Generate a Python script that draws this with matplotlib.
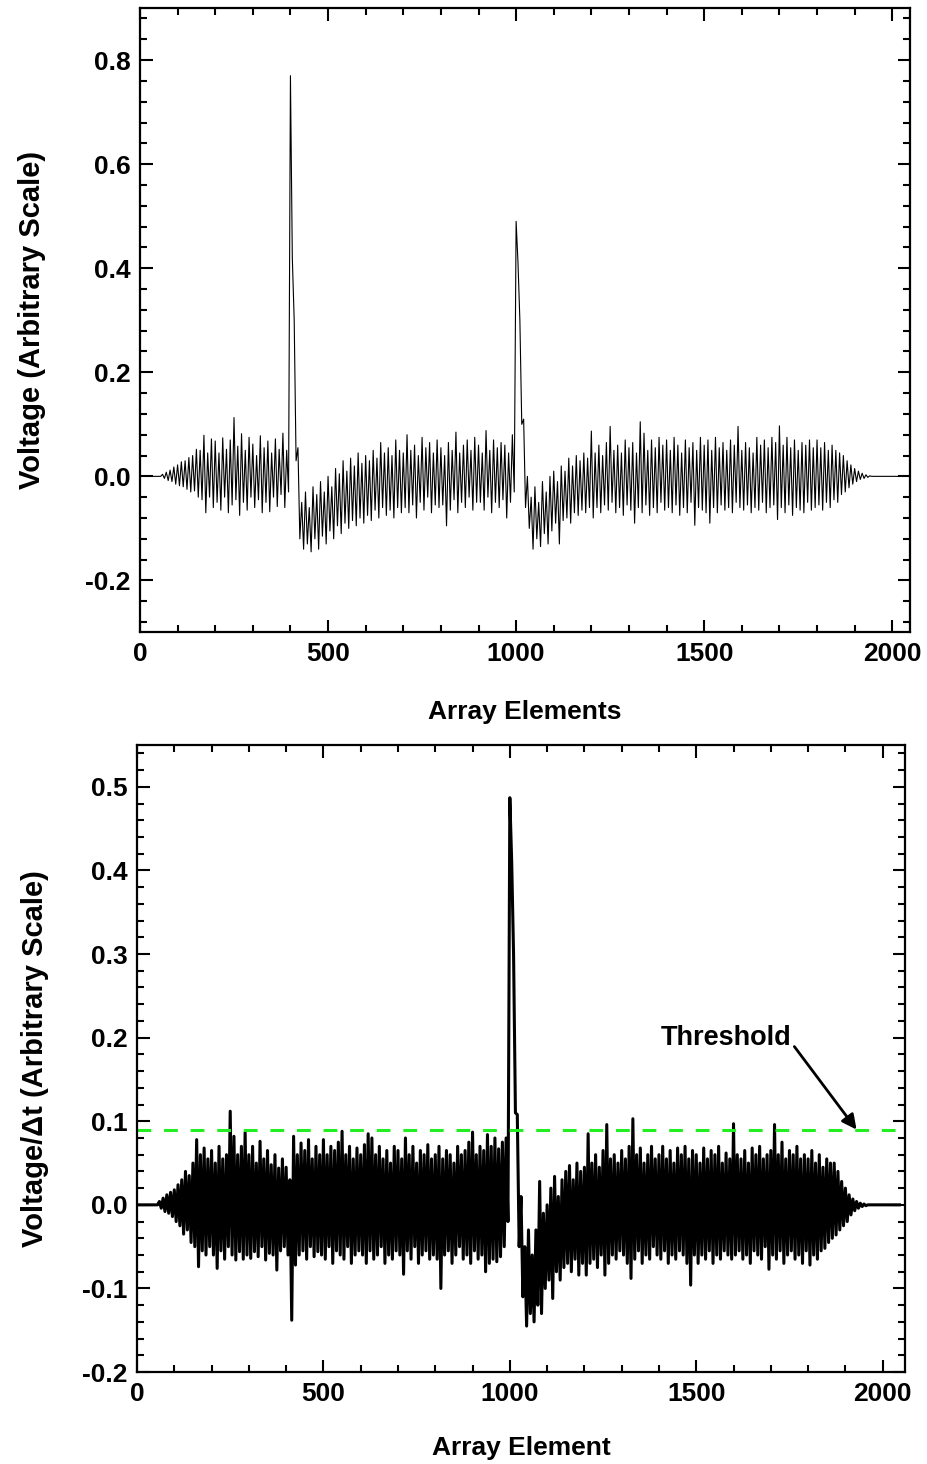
import numpy as np
import matplotlib.pyplot as plt

plt.rcParams['font.family'] = ['Liberation Sans', 'DejaVu Sans']
plt.rcParams['font.weight'] = 'bold'

# one peak/trough pair per 10 array elements
CYCLE = 10

# top panel: voltage
volt_upper = [
    0, 0, 0, 0, 0, 0, 0.004, 0.008, 0.012, 0.018,
    0.022, 0.028, 0.03, 0.036, 0.04, 0.052, 0.05, 0.079, 0.045, 0.072,
    0.068, 0.045, 0.074, 0.052, 0.07, 0.113, 0.058, 0.082, 0.05, 0.075,
    0.062, 0.04, 0.078, 0.055, 0.068, 0.045, 0.072, 0.052, 0.083, 0.05,
    0.77, 0.30, 0.055, -0.05, -0.03, -0.06, -0.02, -0.035, -0.01, -0.03,
    0.0, -0.02, 0.015, 0.005, 0.03, 0.01, 0.035, 0.02, 0.045, 0.025,
    0.04, 0.03, 0.05, 0.035, 0.065, 0.045, 0.055, 0.04, 0.07, 0.05,
    0.045, 0.08, 0.05, 0.06, 0.04, 0.075, 0.055, 0.065, 0.045, 0.07,
    0.055, 0.04, 0.065, 0.05, 0.085, 0.045, 0.06, 0.07, 0.05, 0.075,
    0.06, 0.045, 0.088, 0.05, 0.07, 0.055, 0.065, 0.06, 0.045, 0.08,
    0.49, 0.30, 0.11, 0.0, -0.04, -0.02, -0.05, -0.01, -0.03, 0.0,
    0.01, -0.01, 0.02, 0.01, 0.035, 0.02, 0.04, 0.03, 0.045, 0.035,
    0.087, 0.045, 0.06, 0.04, 0.065, 0.096, 0.05, 0.06, 0.045, 0.07,
    0.055, 0.065, 0.045, 0.105, 0.083, 0.05, 0.07, 0.055, 0.075, 0.06,
    0.07, 0.05, 0.075, 0.06, 0.045, 0.07, 0.055, 0.065, 0.05, 0.075,
    0.06, 0.07, 0.05, 0.075, 0.055, 0.065, 0.05, 0.07, 0.06, 0.096,
    0.05, 0.065, 0.055, 0.045, 0.075, 0.06, 0.07, 0.055, 0.075, 0.065,
    0.097, 0.06, 0.075, 0.055, 0.07, 0.05, 0.065, 0.06, 0.07, 0.055,
    0.07, 0.055, 0.065, 0.05, 0.06, 0.05, 0.045, 0.04, 0.03, 0.022,
    0.015, 0.01, 0.006, 0.003, 0.001, 0, 0, 0, 0, 0,
    0, 0, 0, 0, 0,
]
volt_lower = [
    0, 0, 0, 0, 0, 0, -0.004, -0.008, -0.01, -0.015,
    -0.018, -0.02, -0.025, -0.03, -0.028, -0.04, -0.045, -0.07, -0.04, -0.06,
    -0.05, -0.065, -0.04, -0.07, -0.055, -0.045, -0.075, -0.05, -0.065, -0.04,
    -0.06, -0.045, -0.07, -0.05, -0.068, -0.04, -0.058, -0.035, -0.06, -0.03,
    0.42, 0.03, -0.12, -0.14, -0.13, -0.145, -0.12, -0.14, -0.115, -0.13,
    -0.105, -0.12, -0.095, -0.11, -0.09, -0.1, -0.085, -0.095, -0.08, -0.09,
    -0.075, -0.085, -0.065, -0.08, -0.06, -0.075, -0.065, -0.08, -0.06, -0.07,
    -0.06, -0.07, -0.055, -0.08, -0.05, -0.065, -0.04, -0.07, -0.055, -0.06,
    -0.055, -0.095, -0.065, -0.045, -0.07, -0.05, -0.06, -0.04, -0.065, -0.05,
    -0.05, -0.065, -0.04, -0.07, -0.05, -0.06, -0.045, -0.08, -0.05, -0.03,
    0.41, 0.10, -0.06, -0.1, -0.14, -0.12, -0.135, -0.11, -0.13, -0.105,
    -0.09, -0.13, -0.085, -0.08, -0.09, -0.07, -0.075, -0.065, -0.07, -0.06,
    -0.08, -0.06, -0.07, -0.055, -0.065, -0.05, -0.07, -0.06, -0.075, -0.055,
    -0.065, -0.09, -0.06, -0.07, -0.055, -0.075, -0.06, -0.07, -0.05, -0.065,
    -0.06, -0.07, -0.055, -0.075, -0.06, -0.07, -0.05, -0.094, -0.06, -0.065,
    -0.07, -0.09, -0.06, -0.07, -0.055, -0.065, -0.06, -0.07, -0.05, -0.06,
    -0.065, -0.055, -0.07, -0.06, -0.065, -0.05, -0.07, -0.06, -0.055, -0.083,
    -0.06, -0.07, -0.055, -0.075, -0.06, -0.065, -0.07, -0.05, -0.065, -0.06,
    -0.055, -0.065, -0.05, -0.06, -0.045, -0.05, -0.035, -0.03, -0.022, -0.015,
    -0.01, -0.006, -0.004, -0.002, 0, 0, 0, 0, 0, 0,
    0, 0, 0, 0, 0,
]

# bottom panel: voltage / dt
deriv_upper = [
    0, 0, 0, 0, 0, 0, 0.004, 0.008, 0.012, 0.015,
    0.018, 0.024, 0.03, 0.04, 0.035, 0.05, 0.078, 0.06, 0.068, 0.055,
    0.065, 0.05, 0.07, 0.055, 0.06, 0.112, 0.082, 0.06, 0.07, 0.087,
    0.06, 0.07, 0.05, 0.076, 0.055, 0.065, 0.048, 0.06, 0.044, 0.055,
    0.045, 0.03, 0.082, 0.06, 0.074, 0.065, 0.078, 0.055, 0.07, 0.06,
    0.078, 0.06, 0.07, 0.065, 0.075, 0.088, 0.06, 0.07, 0.055, 0.068,
    0.06, 0.072, 0.085, 0.08, 0.06, 0.07, 0.055, 0.065, 0.05, 0.07,
    0.065, 0.055, 0.08, 0.06, 0.07, 0.05, 0.065, 0.06, 0.072, 0.055,
    0.06, 0.07, 0.055, 0.065, 0.06, 0.05, 0.07, 0.06, 0.065, 0.075,
    0.087, 0.06, 0.07, 0.065, 0.084, 0.07, 0.08, 0.067, 0.075, 0.08,
    0.487, 0.30, 0.108, 0.01, -0.05, -0.03, -0.06, -0.03, 0.028, -0.01,
    0.0, 0.02, 0.034, 0.01, 0.03, 0.04, 0.047, 0.03, 0.05, 0.04,
    0.045, 0.085, 0.05, 0.06, 0.045, 0.065, 0.096, 0.055, 0.06, 0.05,
    0.065, 0.055, 0.07, 0.103, 0.06, 0.068, 0.05, 0.06, 0.07, 0.055,
    0.06, 0.07, 0.055, 0.065, 0.05, 0.068, 0.06, 0.07, 0.055, 0.065,
    0.06, 0.05, 0.068, 0.055, 0.065, 0.06, 0.07, 0.05, 0.062, 0.055,
    0.097, 0.06, 0.055, 0.065, 0.05, 0.068, 0.06, 0.07, 0.055, 0.06,
    0.065, 0.096, 0.06, 0.075, 0.055, 0.065, 0.06, 0.07, 0.055, 0.06,
    0.055, 0.065, 0.05, 0.06, 0.045, 0.055, 0.05, 0.05, 0.04, 0.028,
    0.02, 0.012, 0.007, 0.004, 0.002, 0.001, 0, 0, 0, 0,
    0, 0, 0, 0, 0,
]
deriv_lower = [
    0, 0, 0, 0, 0, 0, -0.004, -0.008, -0.01, -0.014,
    -0.02, -0.025, -0.035, -0.03, -0.045, -0.05, -0.074, -0.055, -0.06, -0.05,
    -0.06, -0.076, -0.055, -0.065, -0.05, -0.06, -0.066, -0.056, -0.065, -0.06,
    -0.064, -0.056, -0.062, -0.05, -0.066, -0.058, -0.06, -0.078, -0.055, -0.05,
    -0.06, -0.138, -0.072, -0.06, -0.055, -0.065, -0.05, -0.062, -0.056, -0.06,
    -0.065, -0.05, -0.07, -0.055, -0.06, -0.065, -0.05, -0.07, -0.06, -0.055,
    -0.06, -0.07, -0.055, -0.065, -0.06, -0.05, -0.07, -0.06, -0.065, -0.055,
    -0.06, -0.083, -0.055, -0.065, -0.05, -0.07, -0.06, -0.055, -0.065, -0.06,
    -0.065, -0.1, -0.06, -0.055, -0.07, -0.06, -0.05, -0.065, -0.06, -0.07,
    -0.055, -0.065, -0.06, -0.08, -0.07, -0.065, -0.068, -0.062, -0.05, -0.02,
    0.41, 0.11, -0.05, -0.11, -0.145, -0.13, -0.14, -0.12, -0.13, -0.1,
    -0.09, -0.112, -0.08, -0.09, -0.075, -0.07, -0.08, -0.065, -0.084, -0.07,
    -0.084, -0.07, -0.065, -0.075, -0.06, -0.084, -0.07, -0.06, -0.065, -0.055,
    -0.06, -0.07, -0.088, -0.065, -0.055, -0.07, -0.06, -0.065, -0.05, -0.06,
    -0.065, -0.055, -0.07, -0.06, -0.065, -0.055, -0.06, -0.07, -0.096, -0.06,
    -0.07, -0.06, -0.065, -0.055, -0.07, -0.06, -0.065, -0.055, -0.06, -0.065,
    -0.06, -0.055, -0.065, -0.06, -0.07, -0.055, -0.06, -0.065, -0.05, -0.077,
    -0.06, -0.065, -0.055, -0.07, -0.06, -0.055, -0.065, -0.06, -0.07, -0.055,
    -0.072, -0.06, -0.065, -0.055, -0.052, -0.045, -0.04, -0.036, -0.03, -0.025,
    -0.02, -0.012, -0.007, -0.004, -0.002, -0.001, 0, 0, 0, 0,
    0, 0, 0, 0, 0,
]

threshold = 0.09


def zigzag(upper, lower):
    # alternate peak / trough every half cycle
    y = np.column_stack([upper, lower]).ravel()
    x = np.arange(len(y)) * CYCLE / 2
    return x, y


def style_axes(ax):
    ax.tick_params(which='both', direction='in', top=True, right=True,
                   labelsize=19, width=1.5, pad=7)
    ax.tick_params(which='major', length=9)
    ax.tick_params(which='minor', length=5)
    for s in ax.spines.values():
        s.set_linewidth(1.6)
    for lab in ax.get_xticklabels() + ax.get_yticklabels():
        lab.set_fontweight('bold')


fig = plt.figure(figsize=(9.27, 14.64), dpi=100)

# top: raw voltage
ax1 = fig.add_axes([0.151, 0.568, 0.831, 0.4265])
x, y = zigzag(volt_upper, volt_lower)
ax1.plot(x, y, color='black', lw=0.8)
ax1.set_xlim(0, 2048)
ax1.set_ylim(-0.3, 0.9)
ax1.set_xticks([0, 500, 1000, 1500, 2000])
ax1.set_xticks(np.arange(0, 2048, 100), minor=True)
ax1.set_yticks([-0.2, 0.0, 0.2, 0.4, 0.6, 0.8])
ax1.set_yticks(np.arange(-0.28, 0.9, 0.04), minor=True)
ax1.set_yticklabels(['-0.2', '0.0', '0.2', '0.4', '0.6', '0.8'])
ax1.set_xlabel('Array Elements', fontsize=19, fontweight='bold', labelpad=24)
ax1.set_ylabel('Voltage (Arbitrary Scale)', fontsize=21, fontweight='bold', labelpad=28)
style_axes(ax1)

# bottom: derivative with threshold
ax2 = fig.add_axes([0.1478, 0.0628, 0.8285, 0.4283])
x, y = zigzag(deriv_upper, deriv_lower)
ax2.plot(x, y, color='black', lw=2.2)
ax2.axhline(threshold, color='#22ee22', lw=2.2, dashes=(4.5, 4.2))
ax2.annotate('Threshold', xy=(1930, threshold), xytext=(1405, 0.2),
             fontsize=19.5, fontweight='bold', va='center', ha='left',
             arrowprops=dict(arrowstyle='-|>', color='black', lw=2,
                             mutation_scale=22, shrinkA=0, shrinkB=0,
                             relpos=(1.0, 0.3)))
ax2.set_xlim(0, 2060)
ax2.set_ylim(-0.2, 0.55)
ax2.set_xticks([0, 500, 1000, 1500, 2000])
ax2.set_xticks(np.arange(0, 2060, 100), minor=True)
ax2.set_yticks([-0.2, -0.1, 0.0, 0.1, 0.2, 0.3, 0.4, 0.5])
ax2.set_yticks(np.arange(-0.18, 0.55, 0.02), minor=True)
ax2.set_yticklabels(['-0.2', '-0.1', '0.0', '0.1', '0.2', '0.3', '0.4', '0.5'])
ax2.set_xlabel('Array Element', fontsize=19, fontweight='bold', labelpad=22)
ax2.set_ylabel('Voltage/\u0394t (Arbitrary Scale)', fontsize=21, fontweight='bold', labelpad=24)
style_axes(ax2)

fig.savefig('out.png', dpi=100)
